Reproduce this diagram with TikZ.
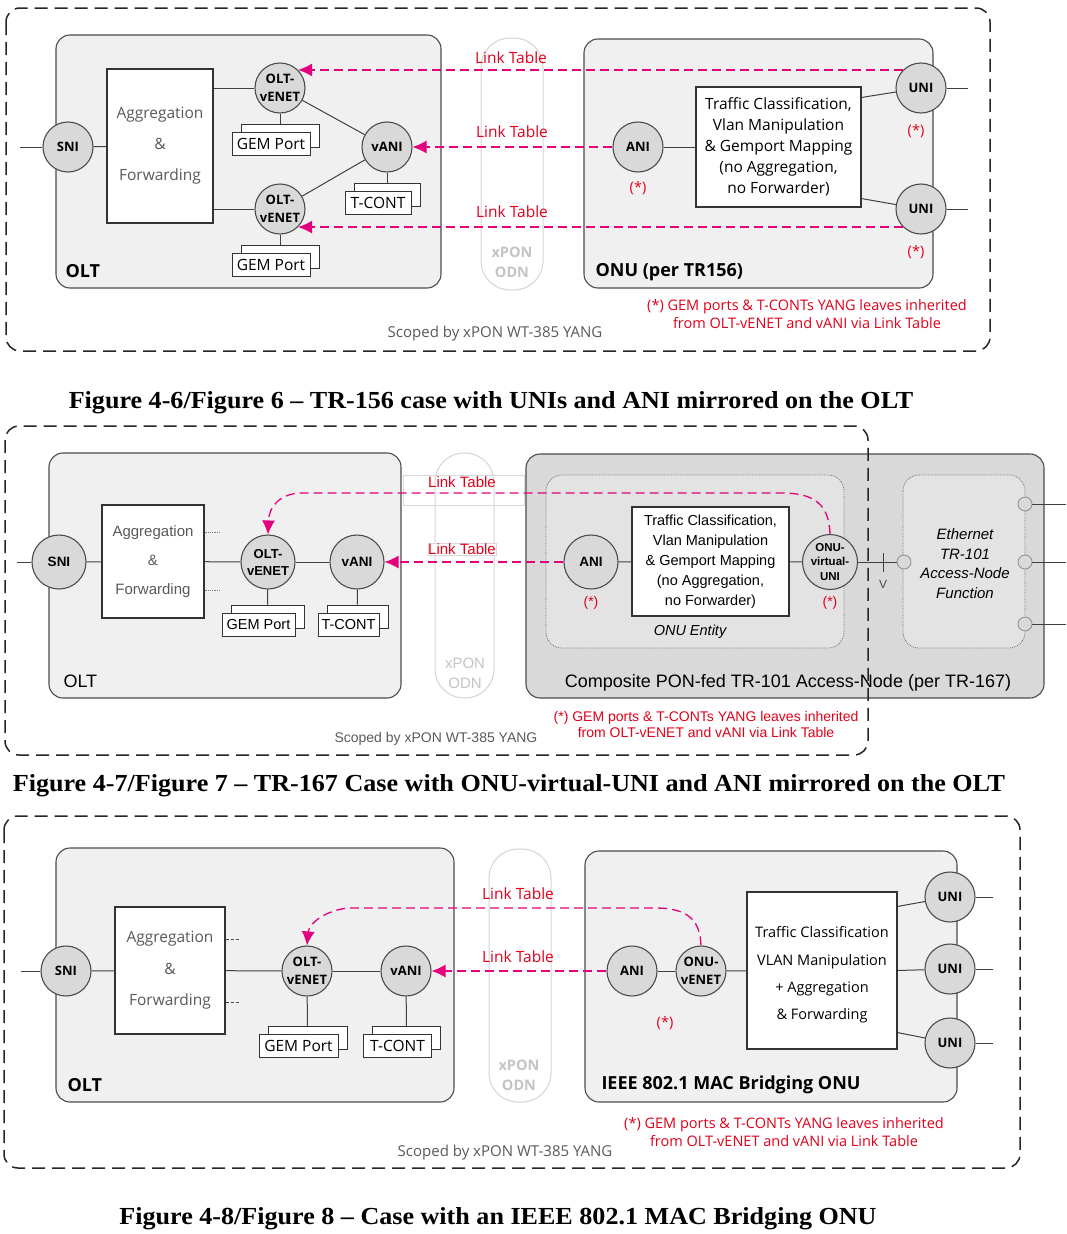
\documentclass[tikz,border=0pt]{standalone}
\usepackage{fontspec}
\setmainfont{Liberation Serif}
\newfontfamily\pure{Open Sans}
\newfontfamily\arial{Liberation Sans}
\usetikzlibrary{arrows.meta}

\definecolor{linkmag}{HTML}{E4007C}
\definecolor{notered}{HTML}{E2001A}
\definecolor{oltfill}{HTML}{F0F0F0}
\definecolor{portfill}{HTML}{D9D9D9}
\definecolor{compfill}{HTML}{D9D9D9}
\definecolor{entityfill}{HTML}{E3E3E3}
\definecolor{odnline}{HTML}{D4D4D4}
\definecolor{odntext}{HTML}{C4C4C4}
\definecolor{scopetext}{HTML}{5A5A5A}

\tikzset{
  scopebox/.style={draw=black!85, line width=1.5pt, dash pattern=on 13pt off 7pt, rounded corners=14pt},
  device/.style={draw=black!70, fill=oltfill, line width=1.1pt, rounded corners=14pt},
  entity/.style={draw=black!55, fill=entityfill, line width=0.8pt, densely dotted, rounded corners=16pt},
  pill/.style={draw=odnline, line width=1pt, rounded corners=29pt},
  port/.style={circle, draw=black!70, fill=portfill, line width=1.1pt, minimum size=50pt, inner sep=0pt, align=center},
  dot/.style={circle, draw=black!45, fill=portfill, line width=0.8pt, minimum size=14pt, inner sep=0pt},
  func/.style={draw=black!80, fill=white, line width=1.1pt, align=center, inner sep=0pt},
  stack/.style={draw=black!80, fill=white, line width=1pt, inner sep=0pt, minimum height=23pt},
  wire/.style={draw=black!75, line width=1pt},
  link/.style={draw=linkmag, line width=1.3pt, dash pattern=on 9pt off 5pt, -{Latex[length=14pt,width=13pt]}},
  % fonts, Figure 6 and 8
  plbl/.style={font=\pure\bfseries\fontsize{13}{18}\selectfont},
  ptxt/.style={font=\pure\fontsize{15.5}{21}\selectfont},
  pnote/.style={text=notered, font=\pure\fontsize{14.5}{18}\selectfont, align=center},
  plink/.style={text=notered, font=\pure\fontsize{15.5}{18}\selectfont},
  pdev/.style={anchor=west, font=\pure\bfseries\fontsize{18}{20}\selectfont},
  pscope/.style={text=scopetext, font=\pure\fontsize{15}{18}\selectfont},
  podn/.style={text=odntext, align=center, font=\pure\bfseries\fontsize{14.5}{20}\selectfont},
  % fonts, Figure 7
  albl/.style={font=\arial\bfseries\fontsize{13.5}{17}\selectfont},
  atxt/.style={font=\arial\fontsize{14.5}{20}\selectfont},
  anote/.style={text=notered, font=\arial\fontsize{14}{16}\selectfont, align=center},
  alink/.style={text=notered, font=\arial\fontsize{15}{18}\selectfont},
  caption/.style={font=\bfseries\fontsize{24.5}{26}\selectfont},
}

% back box first, then the front one with the text
\newcommand{\gemstack}[4]{%
  \node[stack,#3] (#1b) at ([xshift=9pt,yshift=8pt]#2) {\phantom{#4}};
  \node[stack,#3] (#1) at (#2) {#4};
}
\newcommand{\captext}[1]{\scalebox{1.065}[1]{#1}}

\begin{document}
\begin{tikzpicture}[x=1pt,y=-1pt]
  \useasboundingbox[fill=white] (0,0) rectangle (1066,1234);

  % ---------------- Figure 6: TR-156 ----------------
  \draw[scopebox] (6,8) rectangle (990,351);
  \draw[device] (56,35) rectangle (441,288);
  \draw[device] (584,39) rectangle (933,288);
  \draw[pill] (481,38) rectangle (543,290);
  \node[podn] (odn1) at (512,262) {xPON\\ODN};

  \node[port, plbl] (sni1) at (68,147) {SNI};
  \node[func, minimum width=106pt, minimum height=154pt, text=black!65,
        font=\pure\fontsize{15.5}{31}\selectfont] (agg1) at (160,146) {Aggregation\\\&\\Forwarding};
  \node[port, plbl] (ve1) at (280,88) {OLT-\\vENET};
  \node[port, plbl] (ve2) at (280,209) {OLT-\\vENET};
  \node[port, plbl] (vani1) at (387,147) {vANI};
  \gemstack{gp1}{271,144}{ptxt, minimum width=78pt}{GEM Port}
  \gemstack{gp2}{271,265}{ptxt, minimum width=78pt}{GEM Port}
  \gemstack{tc1b}{378,203}{ptxt, minimum width=66pt}{T-CONT}
  \node[pdev] (olt1) at (62,271) {OLT};

  \node[port, plbl] (ani1) at (638,147) {ANI};
  \node[func, ptxt, minimum width=165pt, minimum height=120pt] (tc1) at (778.5,147)
        {Traffic Classification,\\Vlan Manipulation\\\& Gemport Mapping\\(no Aggregation,\\no Forwarder)};
  \node[port, plbl] (uni1) at (921,88) {UNI};
  \node[port, plbl] (uni2) at (921,209) {UNI};
  \node[pnote] (st1) at (638,188) {(*)};
  \node[pnote] (st2) at (916,131) {(*)};
  \node[pnote] (st3) at (916,252) {(*)};
  \node[pdev] (onu1) at (592,272) {ONU (per TR156)};

  \coordinate (in1) at (20,147);
  \coordinate (out1) at (968,88);
  \coordinate (out2) at (968,209);
  \draw[wire] (in1) -- (sni1);
  \draw[wire] (sni1) -- (agg1);
  \draw[wire] (agg1.east |- ve1) -- (ve1);
  \draw[wire] (agg1.east |- ve2) -- (ve2);
  \draw[wire] (ve1) -- (vani1);
  \draw[wire] (ve2) -- (vani1);
  \draw[wire] (ve1) -- (gp1b);
  \draw[wire] (ve2) -- (gp2b);
  \draw[wire] (vani1) -- (tc1bb);
  \draw[wire] (ani1) -- (tc1);
  \draw[wire] ([yshift=-11pt]tc1.north east) -- (uni1);
  \draw[wire] ([yshift=9pt]tc1.south east) -- (uni2);
  \draw[wire] (uni1) -- (out1);
  \draw[wire] (uni2) -- (out2);

  \draw[link] (uni1.135) -- (ve1.45);
  \draw[link] (ani1) -- (vani1);
  \draw[link] (uni2.-135) -- (ve2.-45);
  \node[plink] (lt1) at (511,58) {Link Table};
  \node[plink] (lt2) at (512,132) {Link Table};
  \node[plink] (lt3) at (512,212) {Link Table};

  \node[pnote] (fn1) at (807,314) {(*) GEM ports \& T-CONTs YANG leaves inherited\\from OLT-vENET and vANI via Link Table};
  \node[pscope] (sc1) at (495,334) {Scoped by xPON WT-385 YANG};
  \node[caption] (cap1) at (491,403) {\captext{Figure 4-6/Figure 6 – TR-156 case with UNIs and ANI mirrored on the OLT}};

  % ---------------- Figure 7: TR-167 ----------------
  \draw[device] (49,453) rectangle (401,698);
  \draw[pill] (435,453) rectangle (494,698);
  \draw[device, fill=compfill] (526,454) rectangle (1044,698);
  \draw[entity] (546,475) rectangle (844,648);
  \draw[entity] (903,475) rectangle (1025,648);
  \node[text=odntext, align=center, font=\arial\fontsize{15}{20}\selectfont] (odn2) at (465,673) {xPON\\ODN};
  \draw[draw=black!15, line width=0.8pt] (403,475) rectangle (524,505);

  \node[port, albl, minimum size=54pt] (sni2) at (59,562) {SNI};
  \node[func, minimum width=102pt, minimum height=113pt, text=black!65,
        font=\arial\fontsize{15}{29}\selectfont] (agg2) at (153,561.5) {Aggregation\\\&\\Forwarding};
  \node[port, albl, minimum size=54pt, font=\arial\bfseries\fontsize{13}{17}\selectfont] (ve3) at (268,562) {OLT-\\vENET};
  \node[port, albl, minimum size=54pt] (vani2) at (357,562) {vANI};
  \gemstack{gp3}{258.5,624.5}{atxt, minimum width=73pt}{GEM Port}
  \gemstack{tc2b}{348.5,624.5}{atxt, minimum width=61pt}{T-CONT}
  \node[anchor=west, font=\arial\fontsize{18}{20}\selectfont] (olt2) at (60,681) {OLT};

  \node[port, albl, minimum size=54pt] (ani2) at (591,562) {ANI};
  \node[func, atxt, minimum width=157pt, minimum height=109pt] (tc2) at (710.5,561.5)
        {Traffic Classification,\\Vlan Manipulation\\\& Gemport Mapping\\(no Aggregation,\\no Forwarder)};
  \node[port, minimum size=55pt, font=\arial\bfseries\fontsize{11.5}{14.5}\selectfont] (vuni) at (830,562) {ONU-\\virtual-\\UNI};
  \node[anote] (st4) at (591,603) {(*)};
  \node[anote] (st5) at (830,603) {(*)};
  \node[font=\arial\itshape\fontsize{14.5}{16}\selectfont] (ent) at (690,632) {ONU Entity};
  \node[dot] (ethin) at (904,562) {};
  \node[align=center, font=\arial\itshape\fontsize{15}{19.5}\selectfont] (eth) at (965,563.5)
        {Ethernet\\TR-101\\Access-Node\\Function};
  \node[font=\arial\fontsize{18}{20}\selectfont] (comp) at (788,683) {Composite PON-fed TR-101 Access-Node (per TR-167)};

  \coordinate (in2) at (17,562);
  \coordinate (dots1) at (219,532);
  \coordinate (dots2) at (219,590);
  \coordinate (vtop) at (883,553);
  \coordinate (vbot) at (883,572);
  \draw[wire] (in2) -- (sni2);
  \draw[wire] (sni2) -- (agg2);
  \draw[wire] (agg2) -- (ve3);
  \draw[wire] (ve3) -- (vani2);
  \draw[wire] (ve3) -- (gp3b);
  \draw[wire] (vani2) -- (tc2bb);
  \draw[black!50, densely dotted, line width=0.8pt] (agg2.east |- dots1) -- (dots1);
  \draw[black!50, densely dotted, line width=0.8pt] (agg2.east |- dots2) -- (dots2);
  \draw[wire] (ani2) -- (tc2);
  \draw[wire] (tc2) -- (vuni);
  \draw[wire] (vuni) -- (ethin);
  \draw[wire] (vtop) -- (vbot);
  \node[font=\arial\fontsize{12}{14}\selectfont, text=black!70] (vref) at (883,584) {V};
  \foreach \y [count=\i] in {504,562,624} {
    \node[dot] (eth\i) at (1025,\y) {};
    \coordinate (ethout\i) at (1066,\y);
    \draw[wire] (eth\i) -- (ethout\i);
  }

  \draw[link] (vuni.north) .. controls (829,505) and (815,493) .. (782,493)
        -- (302,493) .. controls (282,493) and (269,505) .. (ve3.north);
  \draw[link] (ani2) -- (vani2);
  \node[alink] (lt4) at (462,482) {Link Table};
  \node[alink, draw=black!15, fill=white, inner sep=0.5pt] (lt5) at (462,549) {Link Table};

  \node[anote] (fn2) at (706,724) {(*) GEM ports \& T-CONTs YANG leaves inherited\\from OLT-vENET and vANI via Link Table};
  \node[anchor=west, text=scopetext, font=\arial\fontsize{14}{16}\selectfont] (sc2) at (331,739) {Scoped by xPON WT-385 YANG};
  \draw[scopebox] (5,426) rectangle (868,755);
  \node[caption] (cap2) at (509,786) {\captext{Figure 4-7/Figure 7 – TR-167 Case with ONU-virtual-UNI and ANI mirrored on the OLT}};

  % ---------------- Figure 8: IEEE 802.1 ----------------
  \draw[scopebox] (4,816) rectangle (1020,1168);
  \draw[device] (56,848) rectangle (454,1102);
  \draw[device] (585,851) rectangle (957,1102);
  \draw[pill] (489,849) rectangle (551,1102);
  \node[podn] (odn3) at (519,1075) {xPON\\ODN};

  \node[port, plbl] (sni3) at (66,971) {SNI};
  \node[func, minimum width=110pt, minimum height=127pt, text=black!65,
        font=\pure\fontsize{15.5}{31.5}\selectfont] (agg3) at (170,970.5) {Aggregation\\\&\\Forwarding};
  \node[port, plbl] (ve4) at (307,971) {OLT-\\vENET};
  \node[port, plbl] (vani3) at (406,971) {vANI};
  \gemstack{gp4}{298.5,1046}{ptxt, minimum width=79pt}{GEM Port}
  \gemstack{tc3b}{397.5,1046}{ptxt, minimum width=68pt}{T-CONT}
  \node[pdev] (olt3) at (64,1085) {OLT};

  \node[port, plbl] (ani3) at (632,971) {ANI};
  \node[port, plbl] (ov) at (701,971) {ONU-\\vENET};
  \node[pnote] (st6) at (665,1023) {(*)};
  \node[func, minimum width=150pt, minimum height=157pt] (tc3) at (822,970.5) {};
  \node[align=center, font=\pure\fontsize{14.5}{27.3}\selectfont] (tc3t) at (822,975)
        {Traffic Classification\\VLAN Manipulation\\+ Aggregation\\\& Forwarding};
  \node[pdev] (onu3) at (598,1085) {IEEE 802.1 MAC Bridging ONU};

  \coordinate (in3) at (21,971);
  \coordinate (dash1) at (240,939);
  \coordinate (dash2) at (240,1002);
  \draw[wire] (in3) -- (sni3);
  \draw[wire] (sni3) -- (agg3);
  \draw[wire] (agg3) -- (ve4);
  \draw[wire] (ve4) -- (vani3);
  \draw[wire] (ve4) -- (gp4b);
  \draw[wire] (vani3) -- (tc3bb);
  \draw[black!70, dash pattern=on 3pt off 2pt, line width=0.8pt] (agg3.east |- dash1) -- (dash1);
  \draw[black!70, dash pattern=on 3pt off 2pt, line width=0.8pt] (agg3.east |- dash2) -- (dash2);
  \draw[wire] (ani3) -- (ov);
  \draw[wire] (ov) -- (tc3);
  \foreach \y [count=\i] in {897,969,1043} {
    \node[port, plbl] (uni3\i) at (950,\y) {UNI};
    \coordinate (out3\i) at (993,\y);
    \draw[wire] (uni3\i) -- (out3\i);
  }
  \draw[wire] ([yshift=-15pt]tc3.north east) -- (uni31);
  \draw[wire] (tc3.east) -- (uni32);
  \draw[wire] ([yshift=17pt]tc3.south east) -- (uni33);

  \draw[link] (ov.north) .. controls (700,920) and (688,908) .. (655,908)
        -- (352,908) .. controls (330,908) and (309,922) .. (ve4.north);
  \draw[link] (ani3) -- (vani3);
  \node[plink] (lt6) at (518,894) {Link Table};
  \node[plink] (lt7) at (518,957) {Link Table};

  \node[pnote] (fn3) at (784,1132) {(*) GEM ports \& T-CONTs YANG leaves inherited\\from OLT-vENET and vANI via Link Table};
  \node[pscope] (sc3) at (505,1153) {Scoped by xPON WT-385 YANG};
  \node[caption] (cap3) at (498,1219) {\captext{Figure 4-8/Figure 8 – Case with an IEEE 802.1 MAC Bridging ONU}};
\end{tikzpicture}
\end{document}
